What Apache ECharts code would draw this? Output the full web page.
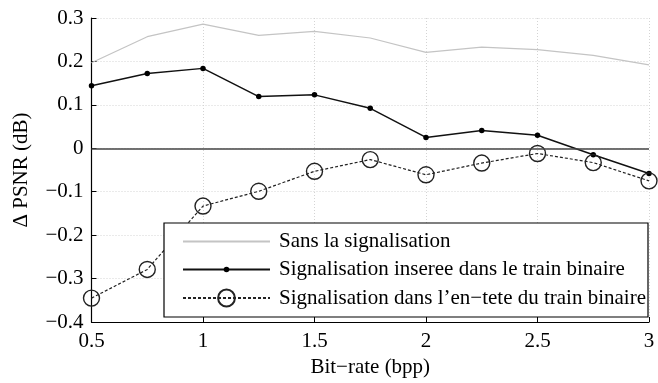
<!DOCTYPE html>
<html>
<head>
<meta charset="utf-8">
<script src="https://cdn.jsdelivr.net/npm/echarts@6/dist/echarts.min.js"></script>
<style>
  html, body { margin: 0; padding: 0; background: #fff; }
  #chart { width: 658px; height: 383px; }
</style>
</head>
<body>
<div id="chart"></div>
<script>
// Bit-rate samples (bpp)
const bitRates = [0.5, 0.75, 1, 1.25, 1.5, 1.75, 2, 2.25, 2.5, 2.75, 3];

// Delta PSNR (dB) for each signalling variant
const sansSignalisation = [0.197, 0.257, 0.286, 0.260, 0.269, 0.254, 0.221, 0.233, 0.227, 0.214, 0.192];
const signalisationInseree = [0.144, 0.172, 0.184, 0.119, 0.123, 0.092, 0.025, 0.041, 0.030, -0.015, -0.058];
const signalisationEnTete = [-0.345, -0.279, -0.133, -0.099, -0.053, -0.026, -0.061, -0.034, -0.012, -0.033, -0.075];

const seriesNames = [
  'Sans la signalisation',
  'Signalisation inseree dans le train binaire',
  'Signalisation dans l\u2019en\u2212tete du train binaire'
];

const xTicks = [0.5, 1, 1.5, 2, 2.5, 3];
const yTicks = [-0.4, -0.3, -0.2, -0.1, 0, 0.1, 0.2, 0.3];

const pairs = vals => bitRates.map((x, i) => [x, vals[i]]);
const fmt = v => String(Math.round(v * 10) / 10).replace('-', '\u2212');

const FONT = 'Liberation Serif';
const chart = echarts.init(document.getElementById('chart'), null, { renderer: 'canvas' });

const legendText = { fontFamily: FONT, fontSize: 21, color: '#000', padding: [0, 0, 0, 4] };

chart.setOption({
  animation: false,
  backgroundColor: '#fff',
  textStyle: { fontFamily: FONT, color: '#000' },
  grid: { left: 91.5, right: 9, top: 18, bottom: 57 },
  xAxis: {
    type: 'value',
    min: xTicks[0], max: xTicks[xTicks.length - 1], interval: 0.5,
    name: 'Bit\u2212rate (bpp)', nameLocation: 'middle', nameGap: 35,
    nameTextStyle: { fontFamily: FONT, fontSize: 21, color: '#000' },
    axisLine: { show: true, onZero: false, lineStyle: { color: '#000', width: 1.2 } },
    axisTick: { show: true, inside: true, length: 5, lineStyle: { color: '#000' } },
    axisLabel: { fontFamily: FONT, fontSize: 21, color: '#000', margin: 9, formatter: fmt },
    splitLine: { show: true, lineStyle: { color: '#d4d4d4', type: [1, 2], width: 1 } }
  },
  yAxis: {
    type: 'value',
    min: yTicks[0], max: yTicks[yTicks.length - 1], interval: 0.1,
    name: '\u0394 PSNR (dB)', nameLocation: 'middle', nameGap: 60, nameRotate: 90,
    nameTextStyle: { fontFamily: FONT, fontSize: 21, color: '#000' },
    axisLine: { show: true, onZero: false, lineStyle: { color: '#000', width: 1.2 } },
    axisTick: { show: true, inside: true, length: 5, lineStyle: { color: '#000' } },
    axisLabel: { fontFamily: FONT, fontSize: 21, color: '#000', margin: 8, formatter: fmt },
    splitLine: { show: true, lineStyle: { color: '#d4d4d4', type: [1, 2], width: 1 } }
  },
  // Framed white box behind the legend entries
  graphic: [{
    type: 'rect', z: 3, silent: true,
    shape: { x: 164, y: 223, width: 484, height: 94 },
    style: { fill: '#fff', stroke: '#000', lineWidth: 1.2 }
  }],
  legend: [
    {
      orient: 'vertical', left: 182, top: 231, padding: 0,
      itemGap: 7, itemWidth: 87, itemHeight: 7,
      textStyle: legendText,
      data: [
        { name: seriesNames[0], itemStyle: { color: 'rgba(0,0,0,0)', borderWidth: 0 } },
        { name: seriesNames[1] }
      ]
    },
    {
      orient: 'vertical', left: 182, top: 287.5, padding: 0,
      itemWidth: 87, itemHeight: 21,
      textStyle: legendText,
      data: [{ name: seriesNames[2] }]
    }
  ],
  series: [
    {
      name: seriesNames[0], type: 'line', data: pairs(sansSignalisation),
      symbol: 'none', z: 2,
      lineStyle: { color: '#c4c4c4', width: 1.2 },
      itemStyle: { color: '#c4c4c4' },
      markLine: {
        silent: true, symbol: 'none', label: { show: false },
        lineStyle: { color: '#444', width: 1.6, type: 'solid' },
        data: [{ yAxis: 0 }]
      }
    },
    {
      name: seriesNames[1], type: 'line', data: pairs(signalisationInseree),
      symbol: 'circle', symbolSize: 5.5, z: 2,
      lineStyle: { color: '#111', width: 1.5 },
      itemStyle: { color: '#000' }
    },
    {
      name: seriesNames[2], type: 'line', data: pairs(signalisationEnTete),
      symbol: 'circle', symbolSize: 16, z: 2,
      lineStyle: { color: '#222', width: 1.2, type: [3, 2] },
      itemStyle: { color: 'rgba(255,255,255,0)', borderColor: '#222', borderWidth: 1.4 }
    }
  ]
});
</script>
</body>
</html>
